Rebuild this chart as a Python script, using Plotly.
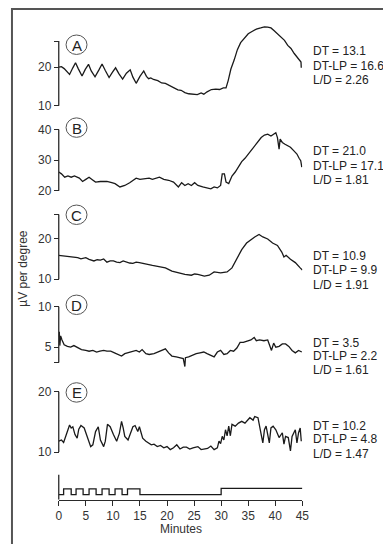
import plotly.graph_objects as go

W, H = 391, 544
def px(x): return x / W
def py(y): return 1 - y / H

# ---------------- data (minutes, µV per degree) ----------------
a_t = [0, 0.5, 1.0, 2.0, 2.6, 3.1, 3.6, 4.3, 4.9, 5.5, 6.0, 6.7, 7.4, 8.0, 8.6, 9.3, 9.9, 10.5, 11.1, 11.8, 12.5, 13.2, 13.7, 14.3, 15.0, 15.7, 16.2, 16.6, 17.0, 17.5, 18.3, 19.0, 19.7, 20.5, 21.2, 22.0, 22.6, 23.3, 24.0, 25.0, 25.6, 26.3, 26.8, 27.4, 28.2, 29.0, 29.7, 30.4, 30.9, 31.3, 31.8, 32.4, 33.0, 33.6, 34.3, 35.0, 35.7, 36.5, 37.3, 38.0, 38.6, 39.2, 39.8, 40.4, 41.0, 41.7, 42.3, 42.9, 43.5, 44.0, 44.5, 44.75, 44.8]
a_v = [20.0, 20.1, 19.6, 18.1, 19.8, 21.1, 19.6, 17.7, 19.4, 20.7, 19.0, 17.5, 19.2, 20.8, 19.1, 17.3, 18.6, 19.8, 18.3, 16.9, 18.4, 19.3, 17.4, 15.8, 17.6, 19.0, 17.6, 17.0, 17.2, 16.8, 16.5, 15.9, 15.8, 15.2, 14.8, 14.1, 14.0, 13.4, 13.1, 13.0, 12.9, 13.3, 13.0, 13.6, 14.2, 14.3, 14.2, 14.6, 14.6, 16.5, 19.5, 21.8, 24.5, 26.3, 27.6, 28.6, 29.2, 29.8, 30.1, 30.4, 30.3, 30.1, 29.4, 28.6, 27.9, 26.9, 25.6, 24.8, 23.5, 22.6, 21.6, 21.3, 19.8]

b_t = [0, 0.5, 1.1, 1.7, 2.3, 2.9, 3.8, 4.4, 5.0, 5.6, 6.2, 6.8, 7.7, 8.9, 9.8, 10.4, 11.3, 12.2, 13.1, 13.7, 14.3, 15.0, 15.8, 16.7, 17.3, 17.9, 18.6, 19.4, 20.3, 21.2, 22.1, 22.7, 23.3, 23.9, 24.5, 25.1, 25.7, 26.6, 27.5, 28.1, 28.7, 29.3, 29.9, 30.2, 30.6, 30.9, 31.4, 32.0, 32.6, 33.2, 33.8, 34.4, 35.0, 35.6, 36.2, 36.8, 37.4, 38.0, 38.6, 39.2, 39.8, 40.1, 40.4, 40.7, 40.9, 41.3, 41.8, 42.2, 42.8, 43.4, 44.0, 44.4, 44.7, 44.9]
b_v = [26.1, 25.5, 24.4, 24.8, 24.4, 24.8, 24.1, 23.0, 23.7, 24.4, 23.6, 22.8, 23.0, 23.0, 22.6, 22.3, 21.2, 21.7, 22.6, 23.4, 24.1, 23.7, 23.9, 24.1, 23.7, 24.1, 24.4, 23.7, 23.4, 22.8, 21.2, 22.6, 21.7, 22.3, 21.7, 22.6, 21.7, 21.2, 20.9, 20.6, 21.2, 20.9, 21.7, 25.5, 25.5, 22.8, 22.3, 24.8, 26.1, 27.7, 29.5, 30.6, 32.0, 33.1, 34.7, 36.3, 37.4, 38.2, 38.5, 37.9, 38.5, 39.0, 37.4, 33.6, 36.9, 35.8, 35.2, 34.9, 34.2, 33.1, 32.0, 30.6, 29.8, 27.7]

c_t = [0, 0.8, 1.7, 2.3, 2.9, 3.5, 4.1, 5.0, 5.6, 6.5, 7.1, 7.7, 8.3, 8.9, 9.5, 10.1, 10.7, 11.3, 11.9, 12.5, 13.1, 13.7, 14.3, 14.9, 15.5, 16.1, 17.3, 18.5, 19.7, 20.9, 22.1, 23.3, 24.5, 25.1, 25.7, 26.9, 27.8, 28.7, 29.9, 31.1, 32.0, 32.9, 33.8, 34.7, 35.6, 36.2, 37.0, 37.7, 38.6, 39.5, 40.4, 41.2, 41.6, 42.0, 42.8, 43.7, 44.6, 45.0]
c_v = [15.9, 15.8, 15.7, 15.5, 15.4, 15.3, 15.0, 15.3, 14.9, 14.5, 14.8, 14.7, 15.0, 14.2, 14.5, 14.5, 14.2, 14.1, 14.5, 14.2, 14.0, 13.9, 14.2, 14.1, 13.9, 13.7, 13.4, 13.1, 12.8, 12.0, 11.6, 11.2, 11.0, 11.3, 11.2, 10.8, 11.0, 11.8, 11.6, 11.8, 12.8, 14.9, 17.3, 18.9, 19.9, 20.4, 21.0, 20.4, 19.9, 18.9, 18.3, 16.7, 15.5, 15.9, 14.9, 14.1, 12.8, 12.3]

d_t = [0, 0.1, 0.2, 0.35, 0.6, 1.0, 1.6, 2.2, 2.8, 3.5, 4.2, 5.0, 5.6, 6.3, 7.0, 7.6, 8.3, 8.9, 9.6, 10.3, 10.9, 11.6, 12.2, 12.8, 13.5, 14.3, 14.9, 15.4, 16.1, 16.7, 17.6, 18.3, 19.0, 19.7, 20.3, 20.9, 21.7, 22.5, 23.0, 23.3, 23.4, 24.0, 24.7, 25.4, 26.1, 26.8, 27.4, 28.0, 28.7, 29.3, 29.9, 30.5, 31.1, 31.7, 32.3, 32.9, 33.5, 34.1, 34.9, 35.5, 36.1, 36.5, 37.1, 37.9, 38.6, 39.0, 39.3, 39.7, 40.1, 40.7, 41.3, 41.9, 42.5, 43.1, 43.7, 44.3, 44.9]
d_v = [6.3, 6.9, 5.2, 6.4, 5.9, 5.3, 5.1, 5.0, 5.2, 4.9, 4.7, 4.6, 4.5, 4.6, 4.4, 4.5, 4.6, 4.5, 4.5, 4.3, 4.1, 3.9, 4.2, 4.3, 4.5, 4.6, 4.4, 4.7, 4.2, 4.1, 4.2, 4.4, 4.6, 4.8, 4.3, 3.9, 3.8, 3.7, 3.6, 2.6, 3.7, 3.8, 4.0, 4.2, 4.3, 4.4, 4.2, 4.0, 3.8, 4.4, 4.6, 4.1, 4.2, 4.6, 4.5, 4.9, 5.6, 5.6, 5.8, 5.9, 6.2, 5.8, 5.9, 5.8, 5.9, 5.2, 4.6, 5.5, 5.0, 5.1, 5.4, 5.4, 5.1, 4.6, 4.3, 4.6, 4.4]

e_t = [0, 0.5, 0.9, 1.4, 2.0, 2.3, 2.6, 3.0, 3.4, 3.7, 4.1, 4.7, 5.3, 5.9, 6.3, 6.8, 7.3, 7.7, 8.3, 8.6, 9.0, 9.5, 10.1, 10.7, 11.2, 11.6, 11.9, 12.2, 12.8, 13.3, 13.7, 14.1, 14.6, 14.9, 15.2, 15.5, 16.1, 16.7, 17.1, 17.6, 18.2, 18.8, 19.4, 20.0, 20.6, 21.2, 21.8, 22.4, 23.0, 23.6, 24.2, 24.8, 25.7, 26.3, 26.9, 27.5, 28.1, 28.7, 29.3, 29.6, 29.9, 30.2, 30.5, 30.8, 31.1, 31.4, 31.7, 32.0, 32.6, 33.2, 33.8, 34.4, 35.0, 35.3, 35.9, 36.2, 36.8, 37.1, 37.4, 37.7, 38.0, 38.3, 38.6, 38.9, 39.2, 39.6, 40.1, 40.7, 41.3, 41.6, 41.9, 42.4, 42.8, 43.1, 43.7, 44.0, 44.3, 44.6, 44.8]
e_v = [11.8, 12.0, 11.6, 12.9, 14.5, 14.0, 14.2, 12.9, 12.3, 13.8, 14.4, 14.0, 12.3, 10.9, 11.2, 13.4, 14.2, 12.0, 10.9, 11.8, 14.6, 14.2, 12.9, 11.8, 13.1, 15.1, 14.0, 12.6, 12.0, 13.4, 14.2, 14.4, 13.4, 14.2, 13.1, 12.3, 11.8, 11.5, 11.2, 11.3, 10.9, 11.1, 10.7, 10.9, 10.4, 10.7, 11.2, 10.5, 10.8, 10.8, 10.5, 10.7, 10.9, 10.4, 10.5, 10.6, 11.0, 10.4, 10.7, 11.8, 11.4, 12.6, 12.0, 13.7, 12.7, 14.3, 12.7, 14.6, 14.3, 14.8, 15.1, 14.8, 15.4, 15.7, 15.3, 15.9, 15.7, 14.0, 12.9, 11.5, 13.7, 14.3, 12.9, 11.5, 14.0, 14.3, 13.7, 12.4, 13.2, 11.3, 12.6, 12.4, 10.2, 12.6, 13.7, 11.5, 13.2, 14.0, 11.8]

# light stimulus (step trace)
stim_t = [0, 0.9, 2.3, 3.2, 4.5, 5.6, 6.9, 8.0, 9.3, 10.4, 11.7, 12.7, 15.0, 30.0, 45.0]
stim_v = [0.2, 0.43, 0.2, 0.43, 0.2, 0.43, 0.2, 0.43, 0.2, 0.43, 0.2, 0.43, 0.2, 0.45, 0.45]

labels = ["A", "B", "C", "D", "E"]
dt = ["13.1", "21.0", "10.9", "3.5", "10.2"]
dtlp = ["16.6", "17.1", "9.9", "2.2", "4.8"]
ld = ["2.26", "1.81", "1.91", "1.61", "1.47"]

x_ticks = [0, 5, 10, 15, 20, 25, 30, 35, 40, 45]

# ---------------- layout geometry ----------------
X0, X1 = 49, 299
INK = "#1a1a1a"
AX = "#2a2a2a"
FONT = "Liberation Sans, Arial, sans-serif"

# (domain top px, domain bottom px, v1, px1, v2, px2, tickvals, ticktext, axis line from, to)
panels = [
    (12, 102, 10, 98.5, 20, 59.5, [10, 20, 26.7], ["10", "20", ""], 10, 26.7),
    (108, 188, 20, 184, 40, 122.5, [20, 30, 40], ["20", "30", "40"], 20, 40),
    (198, 277, 10, 273.3, 20, 232.3, [10, 20, 25.9], ["10", "20", ""], 10, 25.9),
    (292, 366, 5, 341.7, 10, 301, [3.12, 5, 10], ["", "5", "10"], 3.12, 10),
    (378, 452, 10, 447.3, 20, 386.7, [10, 20], ["10", "20"], 10, 20),
]
series = [(a_t, a_v), (b_t, b_v), (c_t, c_v), (d_t, d_v), (e_t, e_v)]
text_y = [(43.3, 58.3, 72.7), (144.3, 159.3, 173.3), (250, 264.3, 279), (337.3, 350.5, 364.5), (420.7, 434.5, 449)]
circ_y = [37, 120.5, 208.3, 299, 387.3]

fig = go.Figure()
layout = dict(
    width=W, height=H, margin=dict(l=0, r=0, t=0, b=0),
    paper_bgcolor="white", plot_bgcolor="white", showlegend=False,
    font=dict(family=FONT, size=12, color="#333"),
)
shapes = []
annotations = []

for i, (p, s) in enumerate(zip(panels, series)):
    top, bot, v1, p1, v2, p2, tv, tt, l0, l1 = p
    k = (p1 - p2) / (v2 - v1)
    lo = v1 - (bot - p1) / k
    hi = v1 + (p1 - top) / k
    name = "yaxis" if i == 0 else f"yaxis{i+1}"
    ref = "y" if i == 0 else f"y{i+1}"
    layout[name] = dict(
        domain=[py(bot), py(top)], range=[lo, hi], anchor="free", position=px(X0),
        showgrid=False, zeroline=False, showline=False,
        ticks="outside", ticklen=5, tickwidth=1.2, tickcolor=AX,
        tickvals=tv, ticktext=tt, tickfont=dict(size=12, color="#333", family=FONT),
    )
    fig.add_trace(go.Scatter(x=s[0], y=s[1], xaxis="x", yaxis=ref, mode="lines",
                             line=dict(color=INK, width=1.3), hoverinfo="skip"))
    shapes.append(dict(type="line", xref="paper", yref=ref, x0=px(X0), x1=px(X0),
                       y0=l0, y1=l1, line=dict(color=AX, width=1.3)))
    # circled letter
    cy = circ_y[i]
    shapes.append(dict(type="circle", xref="paper", yref="paper",
                       x0=px(56.5), x1=px(78), y0=py(cy + 9.8), y1=py(cy - 9.8),
                       line=dict(color="#555", width=1)))
    annotations.append(dict(x=px(67.3), y=py(cy + 0.5), xref="paper", yref="paper",
                            text=labels[i], showarrow=False, xanchor="center", yanchor="middle",
                            font=dict(size=15, color="#222", family=FONT)))
    for txt, yy in zip([f"DT = {dt[i]}", f"DT-LP = {dtlp[i]}", f"L/D = {ld[i]}"], text_y[i]):
        annotations.append(dict(x=px(307.5), y=py(yy), xref="paper", yref="paper", text=txt,
                                showarrow=False, xanchor="left", yanchor="middle",
                                font=dict(size=12, color="#222", family=FONT)))

# stimulus panel
layout["yaxis6"] = dict(domain=[py(495.3), py(470)], range=[0, 1], anchor="free", position=px(X0),
                        showgrid=False, zeroline=False, showline=False, showticklabels=False, ticks="")
fig.add_trace(go.Scatter(x=stim_t, y=stim_v, xaxis="x", yaxis="y6", mode="lines",
                         line=dict(color=INK, width=1.3, shape="hv"), hoverinfo="skip"))
shapes.append(dict(type="line", xref="paper", yref="y6", x0=px(X0), x1=px(X0), y0=0, y1=1,
                   line=dict(color=AX, width=1.3)))

layout["xaxis"] = dict(domain=[px(X0), px(X1)], range=[0, 45], anchor="y6",
                       showgrid=False, zeroline=False, showline=True, linecolor=AX, linewidth=1.3,
                       ticks="outside", ticklen=5, tickwidth=1.2, tickcolor=AX,
                       tickvals=x_ticks, ticktext=[str(v) for v in x_ticks],
                       tickfont=dict(size=12, color="#333", family=FONT))

annotations.append(dict(x=px(174), y=py(524.5), xref="paper", yref="paper", text="Minutes",
                        showarrow=False, xanchor="center", yanchor="middle",
                        font=dict(size=12, color="#333", family=FONT)))
annotations.append(dict(x=px(12), y=py(262), xref="paper", yref="paper", text="µV per degree",
                        showarrow=False, xanchor="center", yanchor="middle", textangle=-90,
                        font=dict(size=12, color="#333", family=FONT)))

# outer frame
shapes.append(dict(type="rect", xref="paper", yref="paper", x0=px(1), x1=px(389.5),
                   y0=py(542.5), y1=py(1), line=dict(color="#555", width=2)))

layout["shapes"] = shapes
layout["annotations"] = annotations
fig.update_layout(**layout)
fig.write_html("out.html")
